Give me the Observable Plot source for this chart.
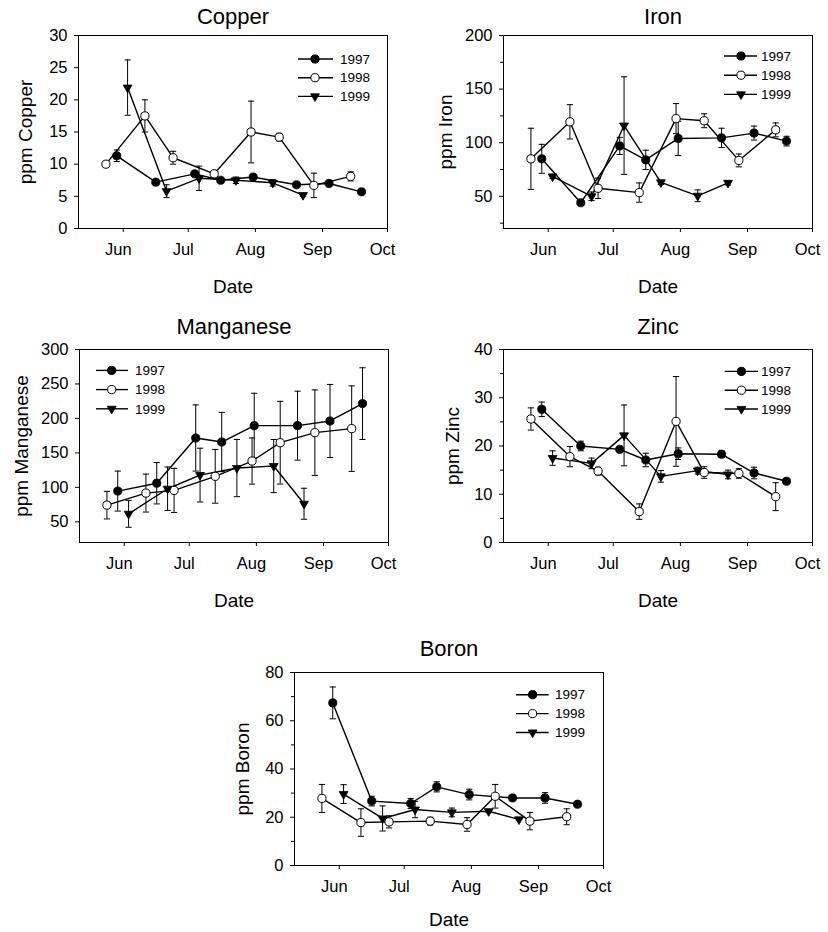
<!DOCTYPE html>
<html><head><meta charset="utf-8">
<script src="https://cdn.jsdelivr.net/npm/d3@7"></script>
<script src="https://cdn.jsdelivr.net/npm/@observablehq/plot@0.6"></script>
<style>
body{margin:0;background:#fff;}
#page{position:relative;width:828px;height:932px;overflow:hidden;background:#fff;font-family:"Liberation Sans",Arial,sans-serif;}
.panel{position:absolute;}
</style></head><body><div id="page"></div>
<script>
// ---- data (month-day of sampling, values and +/- error) ----
const years = ["1997", "1998", "1999"];
const dates1997 = ["05-29", "06-16", "07-04", "07-16", "07-31", "08-20", "09-04", "09-19"];
const dates1998 = ["05-24", "06-11", "06-24", "07-13", "07-30", "08-12", "08-28", "09-14"];
const dates1999 = ["06-03", "06-21", "07-06", "07-23", "08-09", "08-23"];
const monthTicks = ["06-01", "07-01", "08-01", "09-01", "10-01"];

const copper1997 = [11.3, 7.2, 8.5, 7.5, 8.0, 6.8, 7.0, 5.7];
const copper1997Err = [0.9, 0.3, 0.3, 0.3, 0.3, 0.3, 0.3, 0.3];
const copper1998 = [10.0, 17.5, 11.0, 8.5, 15.0, 14.2, 6.7, 8.1];
const copper1998Err = [0.2, 2.5, 1.0, 0.3, 4.8, 0.6, 1.9, 0.7];
const copper1999 = [21.9, 5.8, 7.8, 7.5, 7.1, 5.2];
const copper1999Err = [4.3, 1.0, 1.9, 0.5, 0.5, 0.2];

const iron1997 = [85, 44, 97, 84, 104, 104.5, 109, 101.5];
const iron1997Err = [13.5, 1, 8, 9, 16, 9, 6.5, 4.5];
const iron1998 = [85, 119.5, 57.5, 53.5, 122.5, 120.5, 83.5, 112];
const iron1998Err = [28.5, 16, 9.5, 9, 14, 6.5, 6, 6.5];
const iron1999 = [68.5, 50, 116, 63, 50.5, 62.5];
const iron1999Err = [2, 4, 45.5, 2, 5.5, 2];

const manganese1997 = [94.6, 106, 171.6, 165.8, 189.5, 189.5, 196.3, 221.5];
const manganese1997Err = [29, 30, 48, 43, 47, 50, 53, 52];
const manganese1998 = [74.2, 91.7, 95.6, 116, 138.2, 164.8, 179.4, 185.2];
const manganese1998Err = [20, 27.5, 32, 39, 33.5, 60, 62, 62];
const manganese1999 = [61.6, 98, 117.8, 128, 130.9, 76.2];
const manganese1999Err = [19.5, 31.5, 39, 41.5, 38.5, 22.5];

const zinc1997 = [27.6, 20.0, 19.3, 17.1, 18.4, 18.3, 14.4, 12.7];
const zinc1997Err = [1.5, 1.0, 0.3, 1.4, 1.2, 0.7, 1.2, 0.3];
const zinc1998 = [25.6, 17.8, 14.8, 6.4, 25.1, 14.5, 14.3, 9.5];
const zinc1998Err = [2.3, 2.1, 0.8, 1.6, 9.3, 1.2, 1.0, 2.9];
const zinc1999 = [17.5, 16.4, 22.2, 13.7, 14.9, 14.1];
const zinc1999Err = [1.5, 1.1, 6.3, 1.2, 0.7, 0.9];

const boron1997 = [67.4, 26.7, 25.7, 32.6, 29.4, 28.0, 28.0, 25.4];
const boron1997Err = [6.6, 2.0, 2.1, 2.1, 2.2, 0.3, 2.2, 0.3];
const boron1998 = [27.8, 17.8, 18.1, 18.4, 17.0, 28.7, 18.4, 20.2];
const boron1998Err = [5.8, 5.7, 2.5, 1.6, 2.8, 4.9, 3.6, 3.3];
const boron1999 = [29.6, 19.5, 23.2, 22.0, 22.5, 19.1];
const boron1999Err = [3.9, 5.2, 3.4, 1.8, 0.6, 0.3];

// ---- helpers ----
const parseMD = md => new Date(`2001-${md}T00:00:00Z`);
const xDomain = [new Date("2001-05-11T08:00:00Z"), parseMD("10-01")];
const dateArrays = {"1997": dates1997, "1998": dates1998, "1999": dates1999};
const FONT = "Liberation Sans, Arial, sans-serif";

const capSymbol = {draw(ctx, size) { const w = Math.sqrt(size) / 2; ctx.moveTo(-w, 0); ctx.lineTo(w, 0); }};
const triDown = {draw(ctx, size) {
  const s = Math.sqrt(size) * 1.25, h = s * Math.sqrt(3) / 2;
  ctx.moveTo(-s / 2, -h / 3); ctx.lineTo(s / 2, -h / 3); ctx.lineTo(0, 2 * h / 3); ctx.closePath();
}};

function buildRows(vals, errs) {
  const rows = [];
  years.forEach(y => dateArrays[y].forEach((d, i) => rows.push({year: y, date: parseMD(d), value: vals[y][i], err: errs[y][i]})));
  return rows;
}

const panels = [
  {title: "Copper", ylabel: "ppm Copper", domain: [0, 30], ticks: [0, 5, 10, 15, 20, 25, 30], minor: [],
   vals: {"1997": copper1997, "1998": copper1998, "1999": copper1999},
   errs: {"1997": copper1997Err, "1998": copper1998Err, "1999": copper1999Err},
   left: 0, top: 0, titleDy: -11.5, titleDx: 0, ylabelDx: -53, dateDy: 64,
   legend: {side: "right", x1: -89, x2: -54, mx: -72, tx: -47, top: 24, step: 18.7}},
  {title: "Iron", ylabel: "ppm Iron", domain: [20, 200], ticks: [50, 100, 150, 200], minor: [25, 75, 125, 175],
   vals: {"1997": iron1997, "1998": iron1998, "1999": iron1999},
   errs: {"1997": iron1997Err, "1998": iron1998Err, "1999": iron1999Err},
   left: 424.5, top: 0, titleDy: -12, titleDx: 5, ylabelDx: -58, dateDy: 64,
   legend: {side: "right", x1: -88, x2: -55, mx: -71, tx: -51, top: 21, step: 19.2}},
  {title: "Manganese", ylabel: "ppm Manganese", domain: [20, 300], ticks: [50, 100, 150, 200, 250, 300], minor: [],
   vals: {"1997": manganese1997, "1998": manganese1998, "1999": manganese1999},
   errs: {"1997": manganese1997Err, "1998": manganese1998Err, "1999": manganese1999Err},
   left: 1, top: 314.3, titleDy: -15.5, titleDx: 0, ylabelDx: -58, dateDy: 64,
   legend: {side: "left", x1: 17, x2: 49, mx: 32.7, tx: 56, top: 21.4, step: 19.2}},
  {title: "Zinc", ylabel: "ppm Zinc", domain: [0, 40], ticks: [0, 10, 20, 30, 40], minor: [5, 15, 25, 35],
   vals: {"1997": zinc1997, "1998": zinc1998, "1999": zinc1999},
   errs: {"1997": zinc1997Err, "1998": zinc1998Err, "1999": zinc1999Err},
   left: 425, top: 314.3, titleDy: -16, titleDx: 0, ylabelDx: -51, dateDy: 64,
   legend: {side: "right", x1: -87.3, x2: -54, mx: -70.6, tx: -51, top: 22.4, step: 18.8}},
  {title: "Boron", ylabel: "ppm Boron", domain: [0, 80], ticks: [0, 20, 40, 60, 80], minor: [10, 30, 50, 70],
   vals: {"1997": boron1997, "1998": boron1998, "1999": boron1999},
   errs: {"1997": boron1997Err, "1998": boron1998Err, "1999": boron1999Err},
   left: 215.7, top: 637.3, titleDy: -17, titleDx: 0, ylabelDx: -52, dateDy: 60,
   legend: {side: "right", x1: -87, x2: -54.4, mx: -70.4, tx: -48, top: 22.7, step: 18.9}}
];

const mL = 78, mT = 35, mR = 16, mB = 75, frameW = 309, frameH = 193;
const page = document.getElementById("page");

for (const p of panels) {
  const rows = buildRows(p.vals, p.errs);
  const r97 = rows.filter(d => d.year === "1997");
  const r98 = rows.filter(d => d.year === "1998");
  const r99 = rows.filter(d => d.year === "1999");
  const chart = Plot.plot({
    width: mL + frameW + mR, height: mT + frameH + mB,
    marginLeft: mL, marginTop: mT, marginRight: mR, marginBottom: mB,
    style: {fontFamily: FONT, background: "transparent", color: "#000", overflow: "visible"},
    x: {type: "utc", domain: xDomain},
    y: {domain: p.domain},
    marks: [
      Plot.frame({stroke: "#000", strokeWidth: 1}),
      Plot.axisX({ticks: monthTicks.map(parseMD), tickSize: 4, tickFormat: () => "", label: null}),
      Plot.text(monthTicks.map(parseMD), {x: d => d, frameAnchor: "bottom", lineAnchor: "top", textAnchor: "middle",
        dy: 15, dx: -5, text: d3.utcFormat("%b"), fontSize: 16.5, fill: "#000"}),
      Plot.axisY({ticks: p.ticks, tickSize: 4, tickPadding: 7, fontSize: 16.5, label: null}),
      ...(p.minor.length ? [Plot.axisY({ticks: p.minor, tickSize: 3, tickFormat: () => "", label: null})] : []),
      Plot.text([p.title], {frameAnchor: "top", lineAnchor: "bottom", textAnchor: "middle", dy: p.titleDy, dx: p.titleDx,
        text: d => d, fontSize: 22, fill: "#000"}),
      Plot.text([p.ylabel], {frameAnchor: "left", lineAnchor: "middle", textAnchor: "middle", rotate: -90, dx: p.ylabelDx,
        text: d => d, fontSize: 19, fill: "#000"}),
      Plot.text(["Date"], {frameAnchor: "bottom", lineAnchor: "bottom", textAnchor: "middle", dy: p.dateDy,
        text: d => d, fontSize: 19, fill: "#000"}),
      Plot.ruleX(rows, {x: "date", y1: d => d.value - d.err, y2: d => d.value + d.err, stroke: "#000", strokeWidth: 1}),
      Plot.dot(rows, {x: "date", y: d => d.value + d.err, symbol: capSymbol, r: 3.5, stroke: "#000", fill: "none", strokeWidth: 1}),
      Plot.dot(rows, {x: "date", y: d => d.value - d.err, symbol: capSymbol, r: 3.5, stroke: "#000", fill: "none", strokeWidth: 1}),
      Plot.line(rows, {x: "date", y: "value", z: "year", stroke: "#000", strokeWidth: 1.4}),
      Plot.dot(r97, {x: "date", y: "value", r: 4.1, fill: "#000", stroke: "#000", strokeWidth: 0.8}),
      Plot.dot(r98, {x: "date", y: "value", r: 4.1, fill: "#fff", stroke: "#000", strokeWidth: 1}),
      Plot.dot(r99, {x: "date", y: "value", r: 4, symbol: triDown, fill: "#000", stroke: "#000", strokeWidth: 0.8})
    ]
  });
  // legend
  const svg = d3.select(chart);
  const L = p.legend;
  const base = L.side === "right" ? mL + frameW : mL;
  const g = svg.append("g").attr("font-family", FONT).attr("font-size", 13.5).attr("text-anchor", "start");
  years.forEach((yr, i) => {
    const cy = mT + L.top + i * L.step;
    g.append("line").attr("x1", base + L.x1).attr("x2", base + L.x2).attr("y1", cy).attr("y2", cy)
      .attr("stroke", "#000").attr("stroke-width", 1.4);
    if (yr === "1999") {
      g.append("path").attr("d", d3.symbol(triDown, Math.PI * 16)()).attr("transform", `translate(${base + L.mx},${cy})`)
        .attr("fill", "#000").attr("stroke", "#000").attr("stroke-width", 0.8);
    } else {
      g.append("circle").attr("cx", base + L.mx).attr("cy", cy).attr("r", 4.1)
        .attr("fill", yr === "1997" ? "#000" : "#fff").attr("stroke", "#000").attr("stroke-width", 1);
    }
    g.append("text").attr("x", base + L.tx).attr("y", cy).attr("dy", "0.35em").attr("text-anchor", "start")
      .attr("fill", "#000").text(yr);
  });
  const div = document.createElement("div");
  div.className = "panel";
  div.style.left = p.left + "px";
  div.style.top = p.top + "px";
  div.appendChild(chart);
  page.appendChild(div);
}
</script>
</body></html>
